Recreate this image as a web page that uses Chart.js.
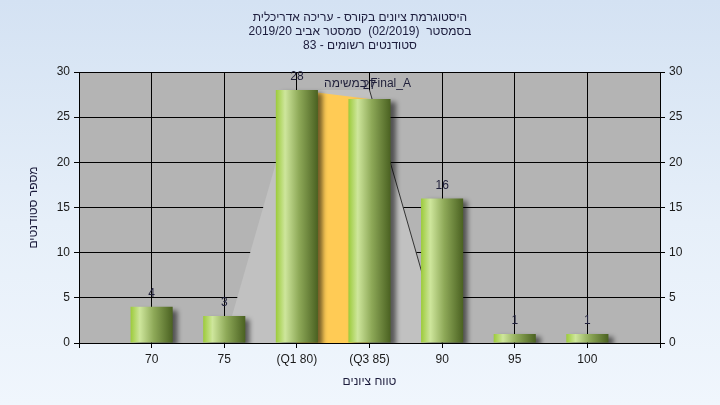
<!DOCTYPE html>
<html>
<head>
<meta charset="utf-8">
<script src="https://cdn.jsdelivr.net/npm/chart.js@4"></script>
<style>
  html, body { margin: 0; padding: 0; }
  body {
    width: 720px; height: 405px; overflow: hidden;
    background: linear-gradient(to bottom, #d4e2f3 0%, #e6eff9 55%, #f0f6fd 100%);
  }
  #wrap { width: 720px; height: 405px; position: relative; }
  canvas { direction: rtl; }
</style>
</head>
<body>
<div id="wrap"><canvas id="gradeChart" width="720" height="405"></canvas></div>
<script>
/* Grade histogram */

// ── Data ─────────────────────────────────
const categories    = ["70", "75", "(Q1 80)", "(Q3 85)", "90", "95", "100"];
const studentCounts = [4, 3, 28, 27, 16, 1, 1];
const quartileBand  = [null, null, 28, 27, null, null, null];   // orange Q1–Q3
const rangeArea     = [null, 0, 28, 28, 0, null, null];         // light gray shape
const rangeEdge     = [null, null, null, 28, 0, null, null];    // dark edge line
const yTicks        = [0, 5, 10, 15, 20, 25, 30];

const titleLines = [
  "היסטוגרמת ציונים בקורס - עריכה אדריכלית",
  "בסמסטר  (02/2019)  סמסטר אביב 2019/20",
  "סטודנטים רשומים - 83",
];
const seriesName = "Final_A במשימה";
const xTitle = "טווח ציונים";
const yTitle = "מספר סטודנטים";

// empty slot on each side of the category axis
const pad = arr => [null, ...arr, null];
const labels = ["", ...categories, ""];

const FONT = "'Liberation Sans', Arial, sans-serif";
const BAR_FRAC = 0.58;

// ── Plugins ──────────────────────────────
const plotBg = {
  id: "plotBg",
  beforeDraw(chart) {
    const { ctx, chartArea: a } = chart;
    ctx.save();
    ctx.fillStyle = "#b4b4b4";
    ctx.fillRect(a.left, a.top, a.right - a.left, a.bottom - a.top);
    ctx.restore();
  },
};

const barShadow = {
  id: "barShadow",
  beforeDatasetDraw(chart, args) {
    if (args.index !== 0) return;
    const ctx = chart.ctx;
    ctx.save();
    ctx.shadowColor   = "rgba(0,0,0,0.55)";
    ctx.shadowOffsetX = 5;
    ctx.shadowOffsetY = 3;
    ctx.shadowBlur    = 5;
  },
  afterDatasetDraw(chart, args) {
    if (args.index !== 0) return;
    chart.ctx.restore();
  },
};

const valueLabels = {
  id: "valueLabels",
  afterDatasetsDraw(chart) {
    const { ctx } = chart;
    const meta = chart.getDatasetMeta(0);
    ctx.save();
    ctx.font = "12px " + FONT;
    ctx.fillStyle = "#1f1f3a";
    ctx.textAlign = "center";
    ctx.textBaseline = "middle";
    meta.data.forEach((bar, i) => {
      const v = chart.data.datasets[0].data[i];
      if (v == null) return;
      ctx.fillText(String(v), bar.x, bar.y - 13);
    });
    // series name near the Q1–Q3 band
    const xs = chart.scales.x, ys = chart.scales.y;
    ctx.fillText(seriesName, xs.getPixelForValue(4) - 2, ys.getPixelForValue(28) - 6);
    ctx.restore();
  },
};

function barGradient(context) {
  const chart = context.chart;
  const xs = chart.scales.x;
  if (!xs || !chart.chartArea) return "#9fc850";
  const cx = xs.getPixelForValue(context.dataIndex);
  const step = xs.getPixelForValue(1) - xs.getPixelForValue(0);
  const half = step * BAR_FRAC / 2;
  const g = chart.ctx.createLinearGradient(cx - half, 0, cx + half, 0);
  g.addColorStop(0,    "#9ccb3a");
  g.addColorStop(0.22, "#cee69c");
  g.addColorStop(0.55, "#8ea958");
  g.addColorStop(1,    "#4a6121");
  return g;
}

// ── Chart ────────────────────────────────
const ctx = document.getElementById("gradeChart").getContext("2d");

new Chart(ctx, {
  data: {
    labels,
    datasets: [
      {
        type: "bar",
        label: "count",
        data: pad(studentCounts),
        backgroundColor: barGradient,
        borderWidth: 0,
        categoryPercentage: 1,
        barPercentage: BAR_FRAC,
        order: 0,
      },
      {
        type: "line",
        label: "band",
        data: pad(quartileBand),
        backgroundColor: "#ffcb55",
        borderWidth: 0,
        pointRadius: 0,
        fill: "origin",
        tension: 0,
        order: 1,
      },
      {
        type: "line",
        label: "edge",
        data: pad(rangeEdge),
        borderColor: "#333333",
        borderWidth: 1,
        pointRadius: 0,
        fill: false,
        tension: 0,
        order: 2,
      },
      {
        type: "line",
        label: "range",
        data: pad(rangeArea),
        backgroundColor: "#c1c1c1",
        borderWidth: 0,
        pointRadius: 0,
        fill: "origin",
        tension: 0,
        order: 3,
      },
    ],
  },
  options: {
    responsive: false,
    animation: false,
    layout: { padding: { top: 0, right: 0, bottom: 0, left: 0 } },
    plugins: {
      legend:  { display: false },
      tooltip: { enabled: false },
      title: {
        display: true,
        text: titleLines,
        color: "#1c1c3c",
        font: { family: FONT, size: 12, weight: "normal", lineHeight: 1.1667 },
        padding: { top: 11, bottom: 19 },
      },
    },
    scales: {
      x: {
        type: "category",
        offset: false,
        grid: { offset: false, color: "#000", lineWidth: 1, tickLength: 5, tickColor: "#000" },
        border: { color: "#000" },
        ticks: {
          color: "#1a1a1a", padding: 4, autoSkip: false, maxRotation: 0,
          font: { family: FONT, size: 12 },
        },
        title: {
          display: true, text: xTitle, color: "#1c1c3c",
          font: { family: FONT, size: 12 }, padding: { top: 16, bottom: 16 },
        },
        afterFit(scale) { scale.height = 62; },
      },
      y: {
        position: "left",
        min: 0, max: 30,
        afterBuildTicks(scale) { scale.ticks = yTicks.map(v => ({ value: v })); },
        grid: { color: "#000", lineWidth: 1, tickLength: 5, tickColor: "#000" },
        border: { color: "#000" },
        ticks: { color: "#1a1a1a", padding: 4, font: { family: FONT, size: 12 } },
        title: {
          display: true, text: yTitle, color: "#1c1c3c",
          font: { family: FONT, size: 12 }, padding: { top: 26, bottom: 26 },
        },
        afterFit(scale) { scale.width = 79; },
      },
      y2: {
        position: "right",
        min: 0, max: 30,
        afterBuildTicks(scale) { scale.ticks = yTicks.map(v => ({ value: v })); },
        grid: { drawOnChartArea: false, color: "#000", tickLength: 5, tickColor: "#000" },
        border: { color: "#000" },
        ticks: { color: "#1a1a1a", padding: 4, font: { family: FONT, size: 12 } },
        afterFit(scale) { scale.width = 60; },
      },
    },
  },
  plugins: [plotBg, barShadow, valueLabels],
});
</script>
</body>
</html>
